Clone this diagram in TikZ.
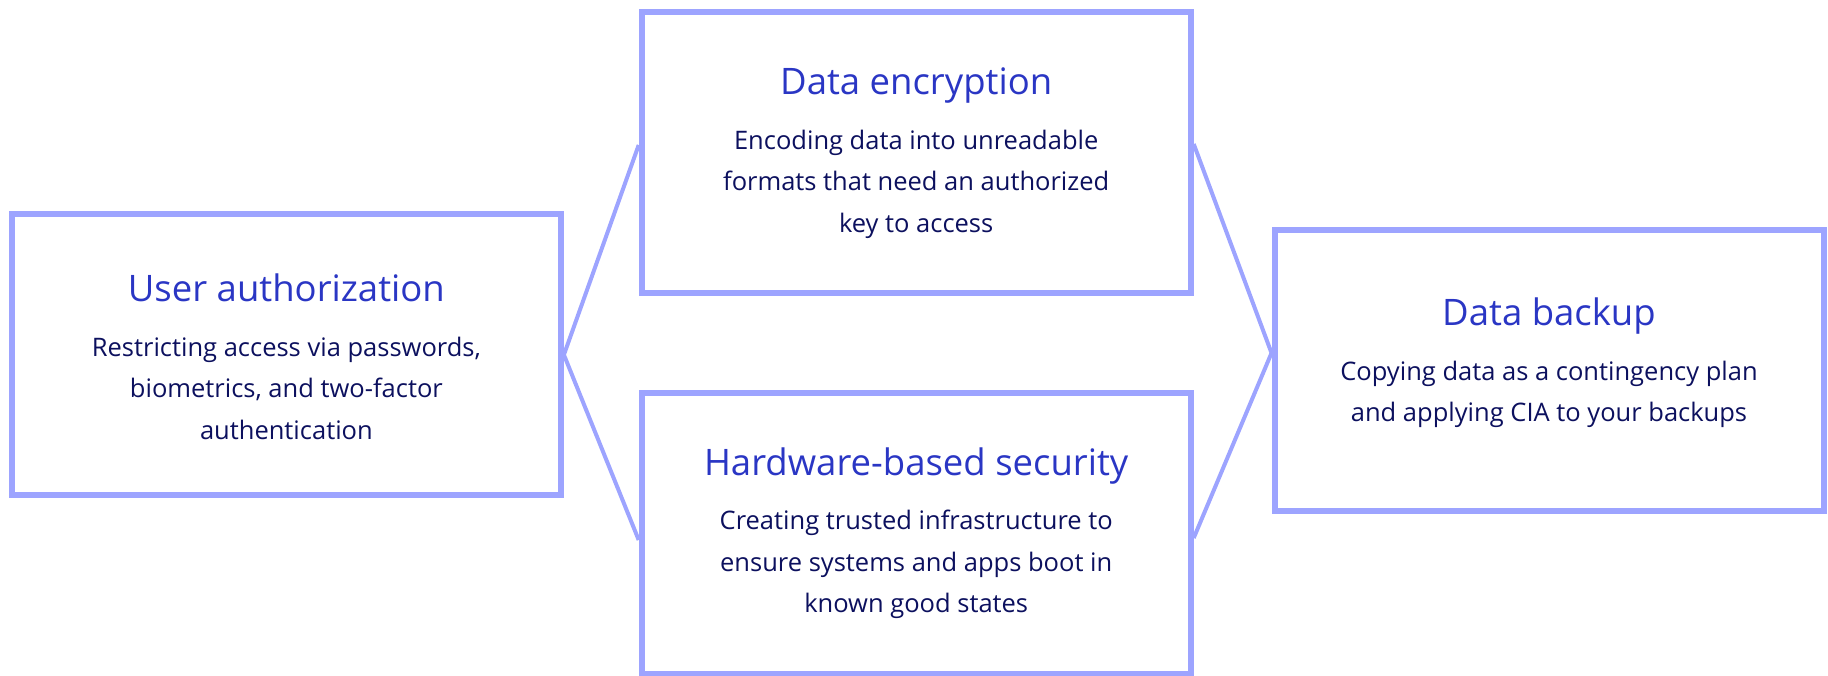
\documentclass[tikz,border=0pt]{standalone}
\usepackage{fontspec}
\setmainfont{Open Sans}
\definecolor{edge}{HTML}{9DA4FF}
\definecolor{headc}{HTML}{2A36C4}
\definecolor{bodyc}{HTML}{0C105E}
\newcommand\headfont{\fontsize{36.5}{42}\selectfont}
\newcommand\bodyfont{\fontsize{25.5}{41.5}\selectfont}
\begin{document}
\begin{tikzpicture}[x=1pt,y=-1pt,
  card/.style={draw=edge, line width=6pt, minimum width=549pt, minimum height=281pt, inner sep=0pt},
  link/.style={draw=edge, line width=4pt, line join=miter},
  blurb/.style={align=center, font=\bodyfont, text=bodyc, inner sep=0pt},
]
\useasboundingbox (0,0) rectangle (1828,675);

% the four boxes
\node[card] (auth) at (286.4,354.8) {};
\node[card] (enc)  at (916.2,152) {};
\node[card] (hw)   at (916.2,533) {};
\node[card] (bak)  at (1549,370) {};

% their texts
\node[blurb] (authtxt) at (286.4,357) {{\headfont\color{headc}User authorization}\\[13pt]
  Restricting access via passwords,\\ biometrics, and two-factor\\ authentication};
\node[blurb] (enctxt) at (916.2,153) {{\headfont\color{headc}Data encryption}\\[13pt]
  Encoding data into unreadable\\ formats that need an authorized\\ key to access};
\node[blurb] (hwtxt) at (916.2,533) {{\headfont\color{headc}Hardware-based security}\\[13pt]
  Creating trusted infrastructure to\\ ensure systems and apps boot in\\ known good states};
\node[blurb] (baktxt) at (1549,363) {{\headfont\color{headc}Data backup}\\[13pt]
  Copying data as a contingency plan\\ and applying CIA to your backups};

% connectors
\draw[link] ([yshift=7pt]enc.west) -- (auth.east) -- ([yshift=-7pt]hw.west);
\draw[link] ([yshift=8pt]enc.east) -- ([yshift=17pt]bak.west) -- ([yshift=-5pt]hw.east);
\end{tikzpicture}
\end{document}
